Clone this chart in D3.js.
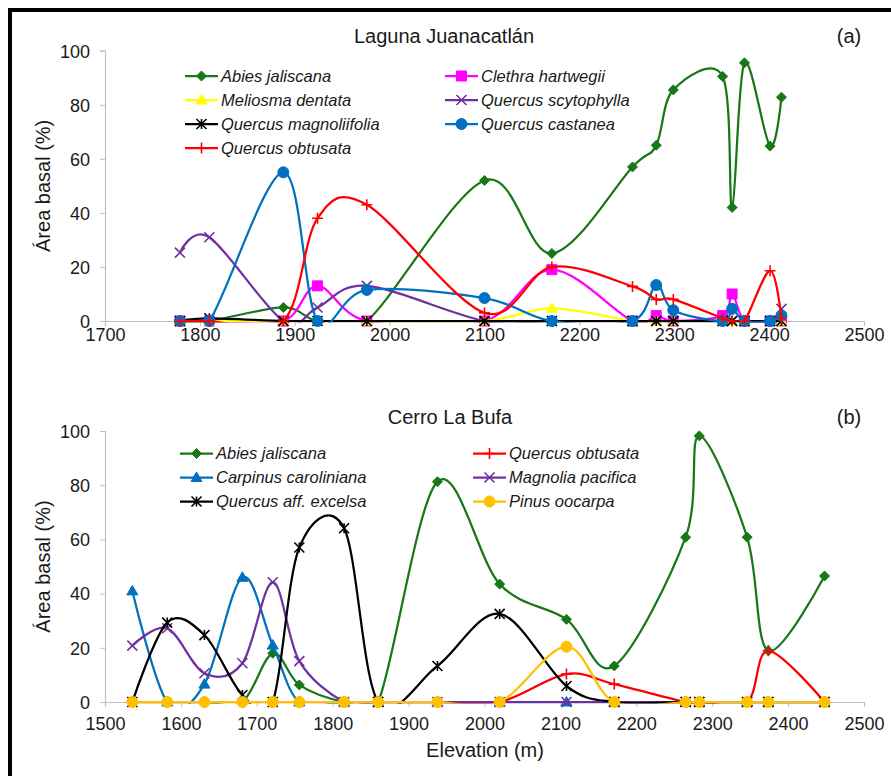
<!DOCTYPE html>
<html>
<head>
<meta charset="utf-8">
<script src="https://cdn.jsdelivr.net/npm/d3@7"></script>
<style>
  body { margin: 0; background: #fff; }
  svg { display: block; }
  text { font-family: "Liberation Sans", Arial, sans-serif; fill: #1a1a1a; }
</style>
</head>
<body>
<svg id="chart" width="891" height="776"></svg>
<script>
// ---- data: panel (a) Laguna Juanacatlán ----
const elevA = [1779, 1810, 1888, 1924, 1976, 2100, 2171, 2256, 2281, 2299, 2351, 2361, 2374, 2401, 2413];
const abiesA       = [0, 0, 5, 0, 0, 52, 25, 57, 65, 85.5, 90.5, 42, 95.5, 64.7, 82.8];
const clethraA     = [0, 0, 0, 13, 0, 0, 19, 0, 2, 0, 2, 10, 0, 0, 0];
const meliosmaA    = [0, 0, 0, 0, 0, 0, 4.7, 0, 0, 0, 0, 0, 0, 0, 0];
const scytophyllaA = [25.3, 31, 0, 5, 13, 0, 0, 0, 0, 0, 0, 0, 0, 0, 4.5];
const magnoliiA    = [0, 1, 0, 0, 0, 0, 0, 0, 0, 0, 0, 0, 0, 0, 0];
const castaneaA    = [0, 0, 55, 0, 11.5, 8.5, 0, 0, 13.3, 4, 0, 4.5, 0, 0, 2];
const obtusataA    = [0, 0, 0, 38, 43, 3, 20, 12.8, 8, 8, 1, 0, 0, 18.6, 1];
const namesA = ["Abies jaliscana", "Clethra hartwegii", "Meliosma dentata", "Quercus scytophylla",
  "Quercus magnoliifolia", "Quercus castanea", "Quercus obtusata"];
const xTicksA = [1700, 1800, 1900, 2000, 2100, 2200, 2300, 2400, 2500];

// ---- data: panel (b) Cerro La Bufa ----
const elevB = [1536, 1582, 1631, 1681, 1721, 1756, 1815, 1860, 1938, 2020, 2108, 2171, 2265, 2283, 2346, 2374, 2448];
const abiesB     = [0, 0, 0, 0, 18, 6.3, 0, 0, 81.3, 43.5, 30.5, 13.3, 60.8, 98.2, 60.8, 18.9, 46.5];
const obtusataB  = [0, 0, 0, 0, 0, 0, 0, 0, 0, 0, 10.3, 6.6, 0, 0, 0, 18.9, 0];
const carpinusB  = [41, 0, 6.6, 46, 21, 0, 0, 0, 0, 0, 0, 0, 0, 0, 0, 0, 0];
const magnoliaB  = [20.8, 27.2, 10.6, 14.3, 44.2, 15.1, 0, 0, 0, 0, 0, 0, 0, 0, 0, 0, 0];
const excelsaB   = [0, 29.3, 24.7, 2.6, 0, 57, 64.1, 0, 13.3, 32.5, 5.9, 0, 0, 0, 0, 0, 0];
const pinusB     = [0, 0, 0, 0, 0, 0, 0, 0, 0, 0, 20.4, 0, 0, 0, 0, 0, 0];
const namesB = ["Abies jaliscana", "Quercus obtusata", "Carpinus caroliniana", "Magnolia pacifica",
  "Quercus aff. excelsa", "Pinus oocarpa"];
const xTicksB = [1500, 1600, 1700, 1800, 1900, 2000, 2100, 2200, 2300, 2400, 2500];

const yTicks = [0, 20, 40, 60, 80, 100];

// ---- styles ----
const GREEN = "#187818", BLUE = "#0070c0", PURPLE = "#7030a0";
const stylesA = [
  { color: GREEN, marker: "diamond" },
  { color: "#ff00ff", marker: "square" },
  { color: "#ffff00", marker: "triangle" },
  { color: PURPLE, marker: "x" },
  { color: "#000000", marker: "star" },
  { color: BLUE, marker: "circle" },
  { color: "#ff0000", marker: "plus" }
];
const stylesB = [
  { color: GREEN, marker: "diamond" },
  { color: "#ff0000", marker: "plus" },
  { color: BLUE, marker: "triangle" },
  { color: PURPLE, marker: "x" },
  { color: "#000000", marker: "star" },
  { color: "#ffc000", marker: "circle" }
];

const svg = d3.select("#chart");

// frame (only top and left edges visible in the crop)
svg.append("rect")
  .attr("x", 10).attr("y", 10)
  .attr("width", 900).attr("height", 800)
  .attr("fill", "none").attr("stroke", "#000").attr("stroke-width", 4);

const left = 105, right = 864;

function markerPath(type, r) {
  switch (type) {
    case "diamond": return `M0,${-r}L${r},0L0,${r}L${-r},0Z`;
    case "square": return `M${-r},${-r}H${r}V${r}H${-r}Z`;
    case "triangle": return `M0,${-r * 1.1}L${r * 1.1},${r * 0.8}L${-r * 1.1},${r * 0.8}Z`;
    case "circle": return d3.symbol(d3.symbolCircle, Math.PI * r * r)();
    case "x": return `M${-r},${-r}L${r},${r}M${-r},${r}L${r},${-r}`;
    case "star": return `M${-r},${-r}L${r},${r}M${-r},${r}L${r},${-r}M0,${-r}V${r}`;
    case "plus": return `M0,${-r}V${r}M${-r},0H${r}`;
  }
}
const markerSize = { diamond: 5, square: 5, triangle: 5, circle: 5.5, x: 5, star: 5, plus: 5.5 };
const openMarker = t => t === "x" || t === "star" || t === "plus";

function drawMarker(g, type, color, x, y) {
  const open = openMarker(type);
  g.append("path")
    .attr("transform", `translate(${x},${y})`)
    .attr("d", markerPath(type, markerSize[type]))
    .attr("fill", open ? "none" : color)
    .attr("stroke", color)
    .attr("stroke-width", open ? 1.6 : 1);
}

function drawPanel(cfg) {
  const x = d3.scaleLinear().domain(cfg.xDomain).range([left, right]);
  const y = d3.scaleLinear().domain([0, 100]).range([cfg.bottom, cfg.top]);
  const g = svg.append("g");

  // axes
  const xAxis = g.append("g")
    .attr("transform", `translate(0,${cfg.bottom})`)
    .call(d3.axisBottom(x).tickValues(cfg.xTicks).tickFormat(d3.format("d")).tickSizeOuter(0).tickSize(5));
  xAxis.select(".domain").attr("stroke", "#c0c0c0").attr("stroke-width", 1.2);
  xAxis.selectAll(".tick line").attr("stroke", "#c0c0c0");
  xAxis.selectAll(".tick text")
    .attr("font-size", 18).attr("y", cfg.xLabelOffset).attr("dy", 0);

  const yAxis = g.append("g")
    .attr("transform", `translate(${left},0)`)
    .call(d3.axisLeft(y).tickValues(yTicks).tickSizeOuter(0).tickSize(5));
  yAxis.select(".domain").attr("stroke", "#c0c0c0").attr("stroke-width", 1.2);
  yAxis.selectAll(".tick line").attr("stroke", "#c0c0c0");
  yAxis.selectAll(".tick text")
    .attr("font-size", 18).attr("x", -15).attr("dy", "0.35em");

  g.selectAll(".tick text").style("fill", "#1a1a1a").attr("font-family", "'Liberation Sans', Arial, sans-serif");

  // titles
  g.append("text").attr("x", cfg.titleX).attr("y", cfg.titleY)
    .attr("text-anchor", "middle").attr("font-size", 20).text(cfg.title);
  g.append("text").attr("x", 849).attr("y", cfg.titleY)
    .attr("text-anchor", "middle").attr("font-size", 20).text(cfg.tag);
  g.append("text")
    .attr("transform", `translate(43,${(cfg.top + cfg.bottom) / 2}) rotate(-90)`)
    .attr("text-anchor", "middle").attr("dy", "0.35em")
    .attr("font-size", 20).text("Área basal (%)");

  // clip lines at the plot area (Excel clips smoothed overshoot below 0)
  const clipId = "clip-" + cfg.tag.replace(/\W/g, "");
  svg.append("clipPath").attr("id", clipId)
    .append("rect").attr("x", left).attr("y", 0)
    .attr("width", right - left + 20).attr("height", cfg.bottom + 1.5);

  const line = d3.line()
    .x(d => x(d[0]))
    .y(d => y(d[1]))
    .curve(d3.curveCardinal.tension(0));

  cfg.series.forEach((s, i) => {
    const st = cfg.styles[i];
    const pts = cfg.sites.map((e, k) => [e, s[k]]);
    const sg = g.append("g");
    sg.append("path")
      .attr("clip-path", `url(#${clipId})`)
      .attr("d", line(pts))
      .attr("fill", "none")
      .attr("stroke", st.color)
      .attr("stroke-width", 2.25);
    pts.forEach(p => drawMarker(sg, st.marker, st.color, x(p[0]), y(p[1])));
  });

  // legend (row-major, two columns)
  cfg.names.forEach((name, i) => {
    const st = cfg.styles[i];
    const col = i % 2, row = Math.floor(i / 2);
    const lx = cfg.legendX[col], ly = cfg.legendY + row * 24;
    const lg = g.append("g");
    lg.append("line")
      .attr("x1", lx).attr("x2", lx + 33).attr("y1", ly).attr("y2", ly)
      .attr("stroke", st.color).attr("stroke-width", 2.25);
    drawMarker(lg, st.marker, st.color, lx + 16.5, ly);
    lg.append("text")
      .attr("x", lx + 36).attr("y", ly).attr("dy", "0.36em")
      .attr("font-size", 16.5).attr("font-style", "italic")
      .text(name);
  });
}

drawPanel({
  title: "Laguna Juanacatlán", tag: "(a)", titleX: 444, titleY: 42.5,
  top: 50.7, bottom: 321, xDomain: [1700, 2500], xTicks: xTicksA, xLabelOffset: 19.5,
  sites: elevA,
  series: [abiesA, clethraA, meliosmaA, scytophyllaA, magnoliiA, castaneaA, obtusataA],
  styles: stylesA, names: namesA,
  legendX: [185, 445], legendY: 76
});

drawPanel({
  title: "Cerro La Bufa", tag: "(b)", titleX: 450, titleY: 423.5,
  top: 431, bottom: 702, xDomain: [1500, 2500], xTicks: xTicksB, xLabelOffset: 28,
  sites: elevB,
  series: [abiesB, obtusataB, carpinusB, magnoliaB, excelsaB, pinusB],
  styles: stylesB, names: namesB,
  legendX: [180, 473], legendY: 453.5
});

svg.append("text")
  .attr("x", 485).attr("y", 756.5)
  .attr("text-anchor", "middle").attr("font-size", 20)
  .text("Elevation (m)");
</script>
</body>
</html>
